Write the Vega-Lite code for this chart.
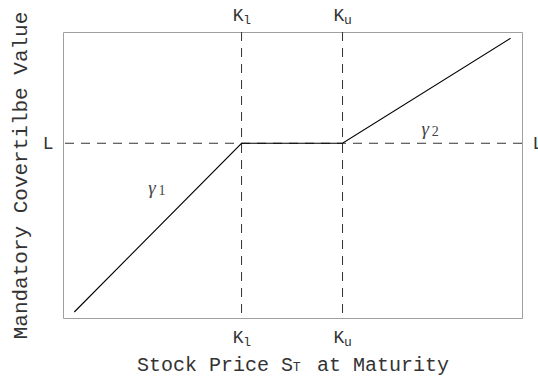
{
  "$schema": "https://vega.github.io/schema/vega-lite/v6.json",
  "width": 459,
  "height": 286,
  "autosize": "none",
  "padding": {"left": 63, "top": 32, "right": 16, "bottom": 63},
  "background": "white",
  "config": {
    "view": {"stroke": "#a0a0a0", "strokeWidth": 1},
    "axis": {
      "domain": false, "grid": false, "ticks": false,
      "labelFont": "Liberation Mono", "labelFontSize": 18, "labelColor": "#333",
      "titleFont": "Liberation Mono", "titleFontSize": 20, "titleFontWeight": "normal", "titleColor": "#333"
    }
  },
  "datasets": {
    "strikes": [{"name": "Kl", "x": 38.9}, {"name": "Ku", "x": 60.9}],
    "level": [{"name": "L", "y": 61.1}],
    "payoff": [
      {"x": 2.46, "y": 2.1},
      {"x": 38.9, "y": 61.1},
      {"x": 60.9, "y": 61.1},
      {"x": 97.5, "y": 97.8}
    ],
    "slopes": [
      {"g": "γ", "n": "1", "x": 19.4, "y": 45.5},
      {"g": "γ", "n": "2", "x": 78.9, "y": 66.1}
    ],
    "sub": [{"label": "T", "x": 50.9, "y": -17.1}]
  },
  "resolve": {"axis": {"x": "independent", "y": "independent"}},
  "layer": [
    {
      "data": {"name": "strikes"},
      "mark": {"type": "rule", "strokeDash": [9, 7], "color": "#333", "strokeWidth": 1},
      "encoding": {
        "x": {
          "field": "x", "type": "quantitative",
          "scale": {"domain": [0, 100], "nice": false, "zero": false},
          "axis": {
            "orient": "bottom", "values": [38.9, 60.9],
            "labelExpr": "'K'", "labelOffset": -4,
            "labelPadding": 10,
            "title": "Stock Price S\u00a0 at Maturity", "titlePadding": 8
          }
        }
      }
    },
    {
      "data": {"name": "level"},
      "mark": {"type": "rule", "strokeDash": [9, 7], "color": "#333", "strokeWidth": 1},
      "encoding": {
        "y": {
          "field": "y", "type": "quantitative",
          "scale": {"domain": [0, 100], "nice": false, "zero": false},
          "axis": {
            "orient": "left", "values": [61.1],
            "labelExpr": "'L'", "labelPadding": 10,
            "title": "Mandatory Covertilbe Value", "titlePadding": 12, "titleFontSize": 21
          }
        }
      }
    },
    {
      "data": {"name": "payoff"},
      "mark": {"type": "line", "color": "#000", "strokeWidth": 1.1},
      "encoding": {
        "x": {
          "field": "x", "type": "quantitative",
          "scale": {"domain": [0, 100], "nice": false, "zero": false},
          "axis": {
            "orient": "top", "values": [38.9, 60.9],
            "labelExpr": "'K'", "labelOffset": -4,
            "labelPadding": 8, "title": null
          }
        },
        "y": {
          "field": "y", "type": "quantitative",
          "scale": {"domain": [0, 100], "nice": false, "zero": false},
          "axis": {
            "orient": "right", "values": [61.1],
            "labelExpr": "'L'", "labelPadding": 10, "title": null
          }
        }
      }
    },
    {
      "data": {"name": "slopes"},
      "mark": {"type": "text", "font": "Liberation Serif", "fontStyle": "italic", "fontSize": 19, "color": "#444"},
      "encoding": {
        "x": {
          "field": "x", "type": "quantitative",
          "scale": {"domain": [0, 100], "nice": false, "zero": false},
          "axis": {
            "orient": "bottom", "values": [38.9, 60.9],
            "labelExpr": "datum.value < 50 ? 'l' : 'u'",
            "labelFontSize": 13, "labelOffset": 5,
            "labelPadding": 17, "title": null
          }
        },
        "y": {"field": "y", "type": "quantitative", "scale": {"domain": [0, 100], "nice": false, "zero": false}, "axis": null},
        "text": {"field": "g"}
      }
    },
    {
      "data": {"name": "slopes"},
      "mark": {"type": "text", "font": "Liberation Serif", "fontSize": 14, "color": "#444", "dx": 10, "dy": 3},
      "encoding": {
        "x": {"field": "x", "type": "quantitative", "scale": {"domain": [0, 100], "nice": false, "zero": false}, "axis": null},
        "y": {"field": "y", "type": "quantitative", "scale": {"domain": [0, 100], "nice": false, "zero": false}, "axis": null},
        "text": {"field": "n"}
      }
    },
    {
      "data": {"name": "sub"},
      "mark": {"type": "text", "font": "Liberation Mono", "fontSize": 13, "color": "#333", "clip": false},
      "encoding": {
        "x": {
          "field": "x", "type": "quantitative",
          "scale": {"domain": [0, 100], "nice": false, "zero": false},
          "axis": {
            "orient": "top", "values": [38.9, 60.9],
            "labelExpr": "datum.value < 50 ? 'l' : 'u'",
            "labelFontSize": 13, "labelOffset": 5,
            "labelPadding": 6, "title": null
          }
        },
        "y": {"field": "y", "type": "quantitative", "scale": {"domain": [0, 100], "nice": false, "zero": false}, "axis": null},
        "text": {"field": "label"}
      }
    }
  ]
}
